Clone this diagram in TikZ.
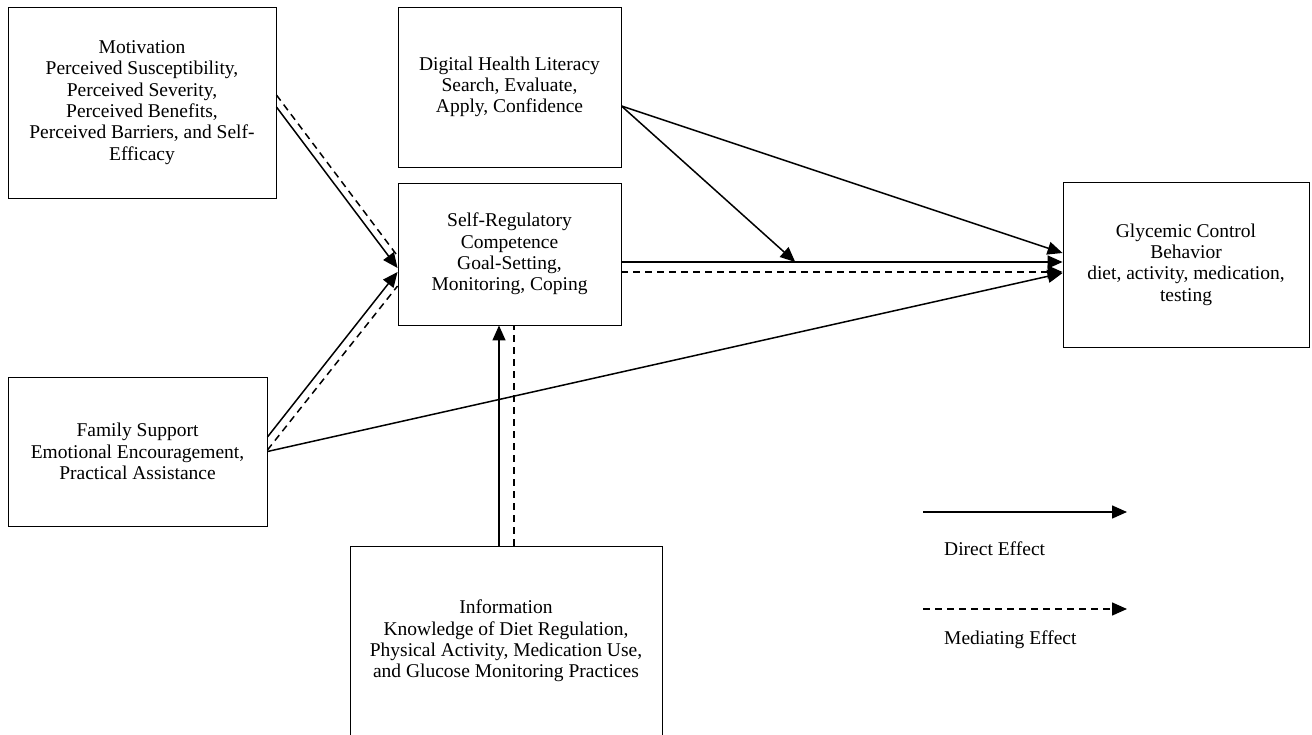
\documentclass[tikz,border=0pt]{standalone}
\usepackage{fontspec}
\setmainfont{Liberation Serif}
\usetikzlibrary{arrows.meta,calc}
\begin{document}
\begin{tikzpicture}[x=1pt,y=-1pt,
  box/.style={draw, line width=0.9pt, align=center, inner sep=0pt, font=\fontsize{19.5}{21.3}\selectfont},
  tip/.style={-{Triangle[length=15pt,width=13pt]}},
  dir/.style={line width=1.5pt, tip},
  med/.style={line width=1.5pt, dash pattern=on 7pt off 5pt},
  medarr/.style={med, tip},
  lbl/.style={anchor=west, inner sep=0pt, font=\fontsize{19.5}{21.3}\selectfont}]
\useasboundingbox (0,0) rectangle (1312,735);
\fill[white] (0,0) rectangle (1312,735);

\node[box, minimum width=268pt, minimum height=191pt] (mot) at (142,102.5)
  {Motivation\\Perceived Susceptibility,\\Perceived Severity,\\Perceived Benefits,\\Perceived Barriers, and Self-\\Efficacy};
\node[box, minimum width=223pt, minimum height=160pt] (dhl) at (509.5,87)
  {Digital Health Literacy\\Search, Evaluate,\\Apply, Confidence};
\node[box, minimum width=223pt, minimum height=142pt] (srl) at (509.5,254)
  {Self-Regulatory\\Competence\\Goal-Setting,\\Monitoring, Coping};
\node[box, minimum width=246pt, minimum height=165pt] (gly) at (1186,264.5)
  {Glycemic Control\\Behavior\\diet, activity, medication,\\testing};
\node[box, minimum width=259pt, minimum height=149pt] (fam) at (137.5,451.5)
  {Family Support\\Emotional Encouragement,\\Practical Assistance};
\node[box, minimum width=312pt, minimum height=190pt] (inf) at (506,641)
  {Information\\Knowledge of Diet Regulation,\\Physical Activity, Medication Use,\\and Glucose Monitoring Practices};

% motivation -> self-regulation
\draw[dir] ([yshift=-4.5pt]mot.east) -- ([yshift=-14pt]srl.west);
\draw[med] ([yshift=7.5pt]mot.east) -- ([yshift=-2pt]srl.west);
% family -> self-regulation
\draw[dir] ([yshift=14.5pt]fam.east) -- ([yshift=-18pt]srl.west);
\draw[med] ([yshift=1.5pt]fam.east) -- ([yshift=-32pt]srl.west);
% family -> glycemic
\draw[dir] (fam.east) -- ([yshift=-8.5pt]gly.west);
% self-regulation -> glycemic
\coordinate (s1) at ([yshift=-8pt]srl.east);
\coordinate (g1) at (gly.west |- s1);
\draw[dir] (s1) -- (g1);
\coordinate (s2) at ([yshift=-18pt]srl.east);
\coordinate (g2) at (gly.west |- s2);
\draw[medarr] (s2) -- (g2);
% digital health literacy
\coordinate (d1) at ([yshift=-19pt]dhl.east);
\draw[dir] (d1) -- ([yshift=11.5pt]gly.west);
\coordinate (m1) at ($(s1)!0.394!(g1)$);
\draw[dir] (d1) -- (m1);
% information -> self-regulation
\coordinate (i1) at ([xshift=-7pt]inf.north);
\coordinate (i2) at ([xshift=8pt]inf.north);
\draw[dir] (i1) -- (i1 |- srl.south);
\draw[med] (i2) -- (i2 |- srl.south);

% legend
\coordinate (la) at (923,512);
\coordinate (lb) at (1127,512);
\draw[dir] (la) -- (lb);
\node[lbl] (ld) at (944,549) {Direct Effect};
\coordinate (lc) at (923,609);
\coordinate (ldd) at (1127,609);
\draw[medarr] (lc) -- (ldd);
\node[lbl] (lm) at (944,640) {Mediating Effect};
\end{tikzpicture}
\end{document}
